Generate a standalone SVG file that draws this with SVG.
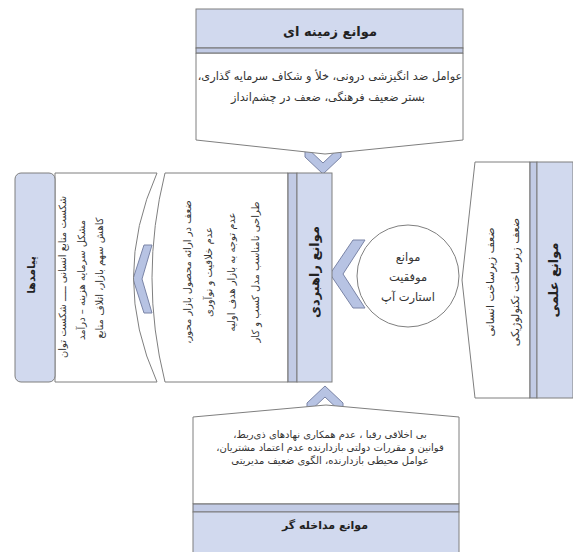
<svg xmlns="http://www.w3.org/2000/svg" width="573" height="552" viewBox="0 0 573 552">
<style>
.body{fill:#ffffff;stroke:#7f7f7f;stroke-width:1}
.hdr{fill:#d1d9ee;stroke:#7f7f7f;stroke-width:1}
.band{fill:#c2cbe5;stroke:#6f6f6f;stroke-width:1}
.chev{fill:#b7c3e3;stroke:#7a84a6;stroke-width:1}
.t{font-family:"DejaVu Sans","Noto Sans",sans-serif;font-size:10px;fill:#333333;text-anchor:middle;direction:rtl;unicode-bidi:embed}
.h{font-family:"DejaVu Sans","Noto Sans",sans-serif;font-size:12px;font-weight:bold;fill:#222222;text-anchor:middle;direction:rtl;unicode-bidi:embed}
</style>
<rect width="573" height="552" fill="#ffffff"/>
<g id="connectors">
<polygon class="chev" points="305,146 323,163 341,146 341,157 323,174 305,157"/>
<polygon class="chev" points="307,403 325,386 343,403 343,414 325,397 307,414"/>
<polygon class="chev" points="330,274 353,240 365,240 343,274 365,308 353,308"/>
<polygon class="chev" points="133,279 144,245 152,245 142,279 152,313 144,313"/>
<polygon class="chev" points="463,277 468,253 476,253 471,277 476,300 468,300"/>
</g>
<g id="top-box">
<path class="body" d="M196,53 L463,53 L463,140 L325,154 L196,140 Z"/>
<rect class="hdr" x="196" y="9" width="267" height="39"/>
<rect class="band" x="196" y="48" width="267" height="5"/>
<text class="h" x="330" y="36" style="font-size:13px">موانع زمینه ای</text>
<text class="t" x="330" y="80" style="font-size:11.3px">عوامل ضد انگیزشی درونی، خلأ و شکاف سرمایه گذاری،</text>
<text class="t" x="328" y="101" style="font-size:11.3px">بستر ضعیف فرهنگی، ضعف در چشم‌انداز</text>
</g>
<g id="bottom-box">
<path class="body" d="M193,417 L326,405 L459,417 L459,504 L193,504 Z"/>
<rect class="band" x="193" y="504" width="266" height="8"/>
<rect class="hdr" x="193" y="512" width="266" height="41"/>
<text class="t" x="330" y="438">بی اخلاقی رقبا ، عدم همکاری نهادهای ذی‌ربط،</text>
<text class="t" x="330" y="451">قوانین و مقررات دولتی بازدارنده عدم اعتماد مشتریان،</text>
<text class="t" x="330" y="464">عوامل محیطی بازدارنده، الگوی ضعیف مدیریتی</text>
<text class="h" x="325" y="529" style="font-size:11px">موانع مداخله گر</text>
</g>
<g id="center-box">
<path class="body" d="M165,173 L288,173 L288,382 L165,382 Q139,278 165,173 Z"/>
<rect class="band" x="288" y="173" width="9" height="209"/>
<rect class="hdr" x="297" y="173" width="35" height="209"/>
<text class="h" transform="translate(319,272) rotate(-90)" style="font-size:13px">موانع راهبردی</text>
<text class="t" transform="translate(191,272) rotate(-90)">ضعف در ارائه محصول بازار محور،</text>
<text class="t" transform="translate(212,272) rotate(-90)">عدم خلاقیت و نوآوری</text>
<text class="t" transform="translate(235,272) rotate(-90)">عدم توجه به بازار هدف اولیه</text>
<text class="t" transform="translate(259,272) rotate(-90)">طراحی نامناسب مدل کسب و کار</text>
</g>
<g id="circle-node">
<circle cx="408" cy="276" r="51" fill="#ffffff" stroke="#7f7f7f" stroke-width="1"/>
<text class="t" x="408" y="261" style="font-size:11.5px">موانع</text>
<text class="t" x="408" y="281" style="font-size:11.5px">موفقیت</text>
<text class="t" x="408" y="301" style="font-size:11.5px">استارت آپ</text>
</g>
<g id="right-box">
<path class="body" d="M475,162 L530,162 L530,398 L475,398 L462,280 Z"/>
<rect class="band" x="530" y="162" width="7" height="236"/>
<rect class="hdr" x="537" y="162" width="36" height="236"/>
<text class="h" transform="translate(558,280) rotate(-90)" style="font-size:13px">موانع علمی</text>
<text class="t" transform="translate(494,282) rotate(-90)" style="font-size:11px">ضعف زیرساخت انسانی</text>
<text class="t" transform="translate(519,282) rotate(-90)" style="font-size:11px">ضعف زیرساخت تکنولوژیکی</text>
</g>
<g id="left-box">
<path class="body" d="M55,173 L157,173 Q110,278 157,382 L55,382 Z"/>
<rect class="hdr" x="15" y="173" width="40" height="209" rx="6"/>
<text class="h" transform="translate(35,275) rotate(-90)" style="font-size:11px">پیامدها</text>
<text class="t" transform="translate(66,277) rotate(-90)">شکست منابع انسانی ـــــ شکست توان</text>
<text class="t" transform="translate(85,280) rotate(-90)">مشکل سرمایه هزینه – درآمد</text>
<text class="t" transform="translate(103,278) rotate(-90)">کاهش سهم بازار، اتلاف منابع</text>
</g>
</svg>
